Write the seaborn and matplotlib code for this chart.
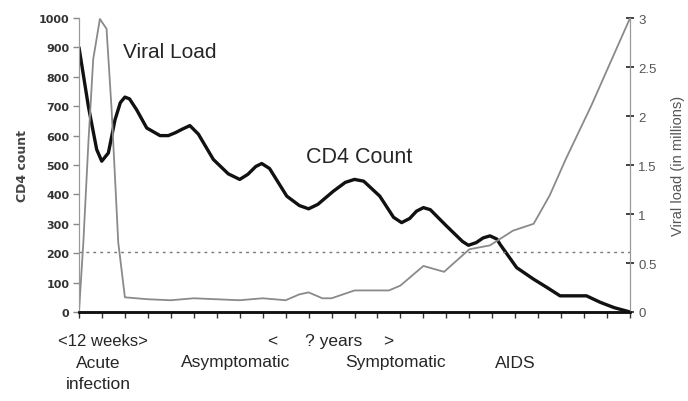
import numpy as np
import pandas as pd
import matplotlib
matplotlib.use("Agg")
import matplotlib.pyplot as plt
import seaborn as sns

# --- data (x in tick units, 0..24) ---
cd4_x = [0, 0.41, 0.77, 0.99, 1.28, 1.57, 1.8, 2.0, 2.2, 2.51, 2.95, 3.53, 3.89, 4.2, 4.5,
         4.83, 5.2, 5.85, 6.5, 7.0, 7.35, 7.7, 7.96, 8.3, 9.05, 9.6, 10.0, 10.4, 11.08, 11.6,
         12.0, 12.4, 13.1, 13.7, 14.05, 14.4, 14.7, 15.0, 15.3, 16.0, 16.7, 16.96, 17.3,
         17.6, 17.9, 18.2, 18.34, 19.06, 19.79, 20.37, 20.95, 22.1, 22.7, 23.3, 24]
cd4_count = [900, 699, 553, 513, 541, 654, 712, 731, 725, 688, 626, 600, 600, 610, 622,
             634, 605, 519, 470, 451, 468, 495, 505, 488, 394, 362, 351, 366, 411, 441,
             451, 445, 394, 322, 304, 318, 343, 355, 348, 293, 240, 227, 236,
             252, 259, 248, 230, 151, 112, 84, 55, 55, 33, 15, 0]

vl_x = [0, 0.19, 0.41, 0.62, 0.91, 1.2, 1.42, 1.71, 2.0, 3.0, 4.0, 5.0, 6.0, 7.0, 8.0,
        9.0, 9.6, 10.0, 10.6, 11.0, 12.0, 13.5, 14.0, 15.0, 15.9, 17.0, 17.9, 18.9, 19.8,
        20.5, 21.2, 22.3, 24]
viral_load = [0, 0.71, 1.73, 2.58, 2.99, 2.89, 2.07, 0.71, 0.15, 0.13, 0.12, 0.14, 0.13,
              0.12, 0.14, 0.12, 0.18, 0.2, 0.14, 0.14, 0.22, 0.22, 0.27, 0.47, 0.41, 0.64,
              0.68, 0.83, 0.9, 1.19, 1.56, 2.1, 3.0]

threshold = 205
left_ticks = [0, 100, 200, 300, 400, 500, 600, 700, 800, 900, 1000]
right_ticks = [0, 0.5, 1, 1.5, 2, 2.5, 3]
right_labels = ["0", "0.5", "1", "1.5", "2", "2.5", "3"]

cd4_df = pd.DataFrame({"t": cd4_x, "cd4": cd4_count})
vl_df = pd.DataFrame({"t": vl_x, "vl": viral_load})

sns.set_style("white")
plt.rcParams["font.family"] = ["Liberation Sans", "DejaVu Sans"]

fig = plt.figure(figsize=(6.88, 4.02), dpi=100)
ax = fig.add_axes([0.1148, 0.2214, 0.801, 0.7313])
ax2 = ax.twinx()

sns.lineplot(data=cd4_df, x="t", y="cd4", ax=ax, color="#111111", linewidth=2.4,
             solid_joinstyle="round", solid_capstyle="round")
ax.axhline(threshold, color="#777777", linewidth=1, linestyle=(0, (2, 3)))
sns.lineplot(data=vl_df, x="t", y="vl", ax=ax2, color="#8a8a8a", linewidth=1.3,
             solid_joinstyle="round")

ax.set_xlim(0, 24)
ax.set_ylim(0, 1000)
ax2.set_ylim(0, 3)

ax.set_xticks(range(25))
ax.set_xticklabels([])
ax.tick_params(axis="x", direction="out", length=4, width=1, color="#333333", bottom=True)
ax.set_yticks(left_ticks)
ax.set_yticklabels([str(v) for v in left_ticks], fontsize=8, color="#333333",
                   fontweight="bold", family="DejaVu Sans")
ax.tick_params(axis="y", direction="out", length=4, width=1, color="#888888", left=True, pad=3)
ax2.set_yticks(right_ticks)
ax2.set_yticklabels(right_labels, fontsize=9.5, color="#555555")
ax2.tick_params(axis="y", direction="inout", length=6, width=1.2, color="#222222", right=True, pad=3)

ax.set_xlabel("")
ax.set_ylabel("CD4 count", fontsize=9, fontweight="bold", color="#444444",
              family="DejaVu Sans", labelpad=10)
ax2.set_ylabel("Viral load (in millions)", fontsize=10.5, color="#555555", labelpad=6)
ax.yaxis.set_label_coords(-0.09, 0.5)
ax2.yaxis.set_label_coords(1.075, 0.5)

for a in (ax, ax2):
    a.spines["top"].set_visible(False)
    a.spines["left"].set_color("#999999")
    a.spines["right"].set_color("#999999")
    a.spines["bottom"].set_color("#111111")
    a.spines["bottom"].set_linewidth(1.8)
    a.grid(False)

ax.text(1.92, 885, "Viral Load", fontsize=15, va="center")
ax.text(9.89, 529, "CD4 Count", fontsize=15.5, va="center")

fs = 12.5
fig.text(58 / 688, 1 - 342 / 402, "<12 weeks>", fontsize=12, va="center")
fig.text(267 / 688, 1 - 342 / 402, "<", fontsize=fs, va="center")
fig.text(305 / 688, 1 - 342 / 402, "? years", fontsize=fs, va="center")
fig.text(383 / 688, 1 - 342 / 402, ">", fontsize=fs, va="center")
fig.text(98 / 688, 1 - 363 / 402, "Acute", fontsize=fs, va="center", ha="center")
fig.text(98 / 688, 1 - 385 / 402, "infection", fontsize=fs, va="center", ha="center")
fig.text(236 / 688, 1 - 363 / 402, "Asymptomatic", fontsize=fs, va="center", ha="center")
fig.text(396 / 688, 1 - 363 / 402, "Symptomatic", fontsize=fs, va="center", ha="center")
fig.text(515 / 688, 1 - 363 / 402, "AIDS", fontsize=fs, va="center", ha="center")

fig.savefig("out.png", dpi=100)
